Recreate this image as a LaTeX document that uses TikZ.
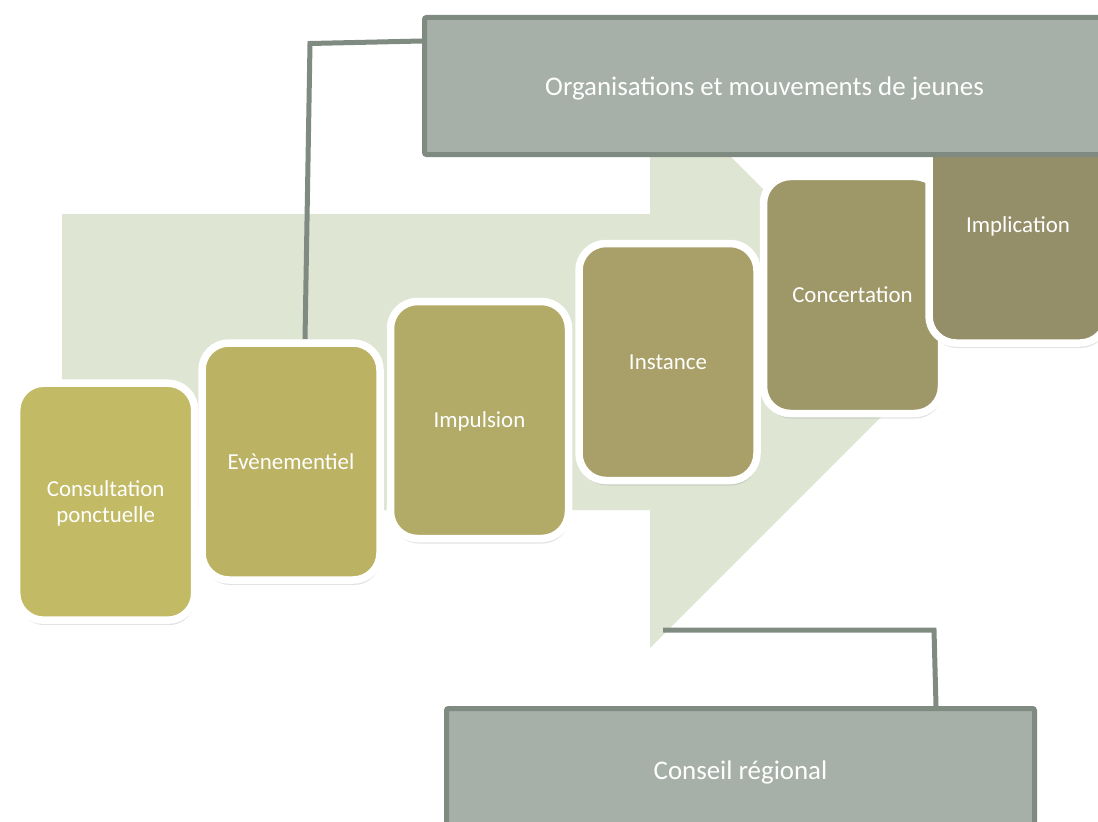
\documentclass[tikz,border=0pt]{standalone}
\usepackage{fontspec}
\setmainfont{Carlito}
\usetikzlibrary{shadows,backgrounds}
\definecolor{arrowgreen}{HTML}{DEE6D3}
\definecolor{panelgray}{HTML}{A6AFA8}
\definecolor{linkgray}{HTML}{7F8B81}
\definecolor{stageA}{HTML}{C2BA65}
\definecolor{stageB}{HTML}{BBB263}
\definecolor{stageC}{HTML}{B2AB67}
\definecolor{stageD}{HTML}{A99F68}
\definecolor{stageE}{HTML}{9E9869}
\definecolor{stageF}{HTML}{958F69}
\begin{document}
\begin{tikzpicture}[x=1bp,y=-1bp,
    stage/.style={rectangle,rounded corners=27bp,draw=white,line width=7.5bp,
      minimum width=178bp,minimum height=237bp,inner sep=2bp,text depth=0pt,
      text=white,align=center,font=\fontsize{23}{26}\selectfont,
      drop shadow={shadow xshift=1bp,shadow yshift=-5bp,opacity=0.22}},
    panel/.style={rectangle,rounded corners=2bp,draw=linkgray,fill=panelgray,
      line width=5bp,text=white,text depth=0pt,font=\fontsize{27}{30}\selectfont},
    link/.style={draw=linkgray,line width=5bp,line join=miter}]
    \useasboundingbox (0,0) rectangle (1098,822);
    %%
    \node (cons) at (105.7,501.7) [stage,fill=stageA] {Consultation\\ponctuelle};
    \node (evt) at (291.0,461.5) [stage,fill=stageB] {Evènementiel};
    \node (imp) at (479.5,420.0) [stage,fill=stageC] {Impulsion};
    \node (inst) at (668.0,362.0) [stage,fill=stageD] {Instance};
    \node (conc) at (852.5,295.0) [stage,fill=stageE] {Concertation};
    \node (impl) at (1018.0,224.5) [stage,fill=stageF] {Implication};
    \node (org) at (764.5,86.0) [panel,minimum width=680bp,minimum height=137bp] {Organisations et mouvements de jeunes};
    \node (cr) at (740.5,770.0) [panel,minimum width=588bp,minimum height=123bp] {Conseil régional};
    \coordinate (tail) at (663,630);
    %
    \begin{scope}[on background layer]
      % big arrow behind the stages
      \fill [arrowgreen] (62,214) -- (650,214) -- (650,76) -- (936,362)
        -- (650,648) -- (650,510) -- (62,510) -- cycle;
      \draw [link] ([yshift=-26bp]org.north west) -- (310,43.5) -- ([xshift=14bp]evt.north);
      \draw [link] (tail) -- (934,630) -- ([xshift=195.5bp]cr.north);
    \end{scope}
    %
\end{tikzpicture}
\end{document}
